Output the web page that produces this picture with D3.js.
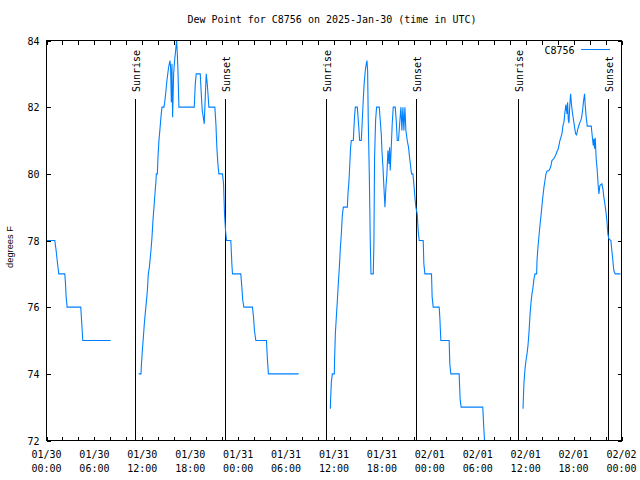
<!DOCTYPE html>
<html><head><meta charset="utf-8">
<script src="https://cdn.jsdelivr.net/npm/d3@7"></script>
<style>
body{margin:0;background:#fff}
svg{display:block;background:#fff}
.mono{font-family:"DejaVu Sans Mono",monospace;font-size:10px;fill:#000}
.sans{font-family:"Liberation Sans",Arial,sans-serif;font-size:9.3px;fill:#000}
</style>
</head><body>
<svg id="chart" width="640" height="480"></svg>
<script>
// ---- data (hours after 2025-01-30 00:00 UTC, dew point in °F) ----
const startUTC = Date.UTC(2025, 0, 30, 0, 0);
const seriesName = "C8756";
const titleText = "Dew Point for C8756 on 2025-Jan-30 (time in UTC)";
const yAxisLabel = "degrees F";

const night1Hours = [0, 1.04, 1.19, 1.34, 1.46, 1.54, 2.29, 2.37, 2.46, 2.58, 4.29, 4.42, 4.54, 8.04];
const night1Dew   = [78, 78, 77.73, 77.4, 77.15, 77, 77, 76.75, 76.3, 76, 76, 75.5, 75, 75];

const day1Hours = [11.54, 11.83, 11.88, 12.0, 12.13, 12.25, 12.38, 12.5, 12.63, 12.75, 12.88, 13.08, 13.21, 13.33, 13.46, 13.58, 13.71, 13.75, 13.88, 13.96, 14.08, 14.21, 14.33, 14.46, 14.71, 14.83, 14.96, 15.08, 15.21, 15.33, 15.46, 15.54, 15.63, 15.71, 15.79, 15.92, 16.04, 16.17, 16.29, 16.38, 16.46, 16.58, 18.5, 18.63, 18.75, 19.25, 19.38, 19.5, 19.63, 19.75, 19.88, 20.0, 20.13, 20.25, 20.33, 21.08, 21.21, 21.33, 21.46, 21.58, 22.04, 22.17, 22.29, 22.42, 22.54, 23.08, 23.21, 23.29, 24.33, 24.46, 24.58, 24.71, 25.79, 25.92, 26.04, 26.21, 27.54, 27.67, 27.79, 31.58];
const day1Dew   = [74, 74, 74.25, 74.7, 75.1, 75.5, 75.85, 76.15, 76.5, 77, 77.2, 77.7, 78.1, 78.6, 79, 79.4, 79.8, 80, 80, 80.5, 81, 81.35, 81.7, 82, 82, 82.2, 82.5, 82.8, 83.05, 83.25, 83.4, 83.2, 82.15, 83.3, 81.7, 83, 83.4, 83.7, 84, 83.6, 83.1, 82, 82, 82.7, 83, 83, 82.4, 81.9, 81.7, 81.5, 82.3, 83, 82.7, 82.3, 82, 82, 81.5, 80.8, 80.3, 80, 80, 79.7, 78.8, 78.3, 78, 78, 77.3, 77, 77, 76.6, 76.2, 76, 76, 75.7, 75.3, 75, 75, 74.4, 74, 74];

const day2Hours = [35.54, 35.58, 35.67, 35.79, 36.04, 36.08, 36.17, 36.29, 36.42, 36.54, 36.67, 36.79, 36.92, 37.04, 37.17, 37.67, 37.75, 37.88, 38.0, 38.08, 38.17, 38.42, 38.5, 38.58, 38.67, 38.92, 39.04, 39.13, 39.21, 39.42, 39.54, 39.67, 39.79, 39.92, 40.04, 40.13, 40.21, 40.29, 40.42, 40.54, 40.63, 40.92, 41.0, 41.08, 41.21, 41.33, 41.67, 41.79, 41.92, 42.0, 42.13, 42.25, 42.38, 42.5, 42.63, 42.75, 42.88, 42.96, 43.04, 43.17, 43.29, 43.42, 43.67, 43.79, 43.92, 44.08, 44.25, 44.38, 44.5, 44.63, 44.75, 44.88, 45.0, 45.17, 45.33, 45.46, 45.58, 45.71, 45.88, 46.0, 46.13, 46.25, 46.42, 46.54, 46.67, 47.17, 47.25, 47.38, 48.21, 48.29, 48.42, 49.17, 49.25, 49.38, 50.42, 50.5, 50.63, 51.67, 51.79, 51.92, 54.63, 54.75, 54.85];
const day2Dew   = [72.95, 73.25, 73.75, 74, 74, 74.5, 75.2, 75.7, 76.2, 76.7, 77.2, 77.75, 78.2, 78.75, 79, 79, 79.4, 79.8, 80.4, 80.8, 81, 81, 81.4, 81.75, 82, 82, 81.6, 81.3, 81, 81, 81.6, 82.25, 82.75, 83.1, 83.3, 83.4, 83.1, 81.6, 80, 78, 77, 77, 78, 80.5, 81.6, 82, 82, 81.6, 81.2, 80.7, 80.2, 79.6, 79, 79.6, 80, 80.7, 80.3, 80.8, 80.1, 80.8, 81.5, 82, 82, 81.6, 81, 81, 81.6, 82, 81.3, 82, 81.3, 82, 81.3, 81, 80.8, 80.5, 80.25, 80, 80, 79.7, 79.3, 79, 78.8, 78.3, 78, 78, 77.3, 77, 77, 76.3, 76, 76, 75.7, 75, 75, 74.3, 74, 74, 73.25, 73, 73, 72.4, 72];

const day3Hours = [59.67, 59.71, 59.79, 59.92, 60.04, 60.17, 60.29, 60.42, 60.54, 60.67, 60.79, 60.92, 61.04, 61.17, 61.375, 61.42, 61.54, 61.67, 61.79, 61.92, 62.04, 62.17, 62.29, 62.42, 62.54, 62.67, 62.92, 63.04, 63.17, 63.29, 63.5, 63.625, 63.79, 63.92, 64.04, 64.17, 64.29, 64.42, 64.54, 64.67, 64.79, 64.92, 65.04, 65.17, 65.25, 65.33, 65.42, 65.5, 65.625, 65.75, 65.875, 66.0, 66.125, 66.25, 66.375, 66.5, 66.625, 66.75, 66.875, 67.0, 67.125, 67.25, 67.375, 67.46, 67.58, 67.71, 68.21, 68.33, 68.46, 68.54, 68.625, 68.71, 68.83, 68.96, 69.08, 69.17, 69.29, 69.54, 69.67, 69.79, 69.92, 70.04, 70.17, 70.29, 70.42, 70.67, 70.79, 70.92, 71.04, 71.21, 71.875];
const day3Dew   = [72.95, 73.25, 73.75, 74.15, 74.4, 74.6, 74.85, 75.25, 75.75, 76.15, 76.4, 76.6, 76.85, 77, 77, 77.4, 77.8, 78.15, 78.45, 78.75, 79.05, 79.35, 79.6, 79.8, 80, 80.08, 80.1, 80.15, 80.25, 80.4, 80.45, 80.5, 80.58, 80.67, 80.72, 80.85, 81, 81.1, 81.2, 81.45, 81.55, 81.85, 82.08, 81.8, 82.15, 81.65, 81.52, 81.95, 82.4, 82.05, 81.8, 81.6, 81.4, 81.2, 81.17, 81.32, 81.42, 81.52, 81.58, 81.68, 81.9, 82.18, 82.4, 82.05, 81.7, 81.43, 81.43, 81.15, 80.85, 81.05, 80.75, 81.08, 80.45, 80.1, 79.65, 79.4, 79.65, 79.7, 79.55, 79.3, 79.1, 78.88, 78.6, 78.2, 78.05, 78, 77.7, 77.4, 77.1, 77, 77];

const sunriseHours = [11.05, 35.05, 59.05];
const sunsetHours  = [22.3, 46.3, 70.3];

const yTickValues = [72, 74, 76, 78, 80, 82, 84];
const xLabelHours = [0, 6, 12, 18, 24, 30, 36, 42, 48, 54, 60, 66, 72];
const xTickStepHours = 2;
const yDomain = [72, 84];
const spanHours = 72;

// ---- build ----
const H = 3600 * 1000;
const toDate = h => new Date(startUTC + h * H);
const segments = [[night1Hours, night1Dew], [day1Hours, day1Dew], [day2Hours, day2Dew], [day3Hours, day3Dew]];
const points = [];
segments.forEach(([hs, vs], si) => {
  if (si > 0) points.push({t: toDate(hs[0] - 0.01), v: null});
  hs.forEach((h, i) => points.push({t: toDate(h), v: vs[i]}));
});

const L = 46.5, R = 621.5, T = 40.5, B = 440.5;
const svg = d3.select("#chart");
const x = d3.scaleUtc().domain([toDate(0), toDate(spanHours)]).range([L, R]);
const y = d3.scaleLinear().domain(yDomain).range([B, T]);

const minorTicks = d3.range(0, spanHours + 0.001, xTickStepHours).map(toDate);

// bottom & top ticks
svg.append("g").attr("transform", `translate(0,${B})`)
  .call(d3.axisBottom(x).tickValues(minorTicks).tickSizeInner(-4).tickSizeOuter(0).tickFormat(""))
  .call(g => g.select(".domain").remove())
  .call(g => g.selectAll("line").attr("stroke", "#000").attr("shape-rendering", "crispEdges"));
svg.append("g").attr("transform", `translate(0,${T})`)
  .call(d3.axisTop(x).tickValues(minorTicks).tickSizeInner(-4).tickSizeOuter(0).tickFormat(""))
  .call(g => g.select(".domain").remove())
  .call(g => g.selectAll("line").attr("stroke", "#000").attr("shape-rendering", "crispEdges"));

// left & right ticks
svg.append("g").attr("transform", `translate(${L},0)`)
  .call(d3.axisLeft(y).tickValues(yTickValues).tickSizeInner(-4).tickSizeOuter(0).tickPadding(7).tickFormat(d3.format("d")))
  .call(g => g.select(".domain").remove())
  .call(g => g.selectAll("line").attr("stroke", "#000").attr("shape-rendering", "crispEdges"))
  .call(g => g.selectAll("text").attr("class", "mono").attr("font-family", null).attr("font-size", null).attr("fill", null).attr("dy", "0.36em"));
svg.append("g").attr("transform", `translate(${R},0)`)
  .call(d3.axisRight(y).tickValues(yTickValues).tickSizeInner(-4).tickSizeOuter(0).tickFormat(""))
  .call(g => g.select(".domain").remove())
  .call(g => g.selectAll("line").attr("stroke", "#000").attr("shape-rendering", "crispEdges"));

// x labels (two lines)
const fmtDate = d3.utcFormat("%m/%d"), fmtTime = d3.utcFormat("%H:%M");
const xl = svg.append("g").selectAll("text").data(xLabelHours.map(toDate)).join("text")
  .attr("class", "mono").attr("text-anchor", "middle");
xl.append("tspan").attr("x", d => x(d)).attr("y", 457.5).text(fmtDate);
xl.append("tspan").attr("x", d => x(d)).attr("y", 471.5).text(fmtTime);

// sunrise / sunset lines
const sunEvents = [
  ...sunriseHours.map(h => ({t: toDate(h), label: "Sunrise"})),
  ...sunsetHours.map(h => ({t: toDate(h), label: "Sunset"}))
];
const sg = svg.append("g");
sg.selectAll("line").data(sunEvents).join("line")
  .attr("x1", d => Math.round(x(d.t)) + 0.5).attr("x2", d => Math.round(x(d.t)) + 0.5)
  .attr("y1", 99).attr("y2", B)
  .attr("stroke", "#000").attr("stroke-width", 1).attr("shape-rendering", "crispEdges");
sg.selectAll("text").data(sunEvents).join("text")
  .attr("class", "mono").attr("text-anchor", "start")
  .attr("transform", d => `translate(${Math.round(x(d.t)) + 4.8},92) rotate(-90)`)
  .text(d => d.label);

// data line
svg.append("path").datum(points)
  .attr("fill", "none").attr("stroke", "#0080ff").attr("stroke-width", 1.1)
  .attr("d", d3.line().defined(d => d.v != null).x(d => x(d.t)).y(d => y(d.v)));

// frame
svg.append("rect").attr("x", L).attr("y", T).attr("width", R - L).attr("height", B - T)
  .attr("fill", "none").attr("stroke", "#000").attr("stroke-width", 1).attr("shape-rendering", "crispEdges");

// legend
svg.append("text").attr("class", "mono").attr("text-anchor", "end").attr("x", 574.5).attr("y", 53.7).text(seriesName);
svg.append("line").attr("x1", 581).attr("x2", 610).attr("y1", 49.5).attr("y2", 49.5)
  .attr("stroke", "#0080ff").attr("stroke-width", 1);

// title
svg.append("text").attr("class", "mono").attr("text-anchor", "middle").attr("x", 332).attr("y", 23.3).text(titleText);

// y label
svg.append("text").attr("class", "sans").attr("text-anchor", "middle")
  .attr("transform", "translate(12.8,247) rotate(-90)").text(yAxisLabel);
</script>
</body></html>
